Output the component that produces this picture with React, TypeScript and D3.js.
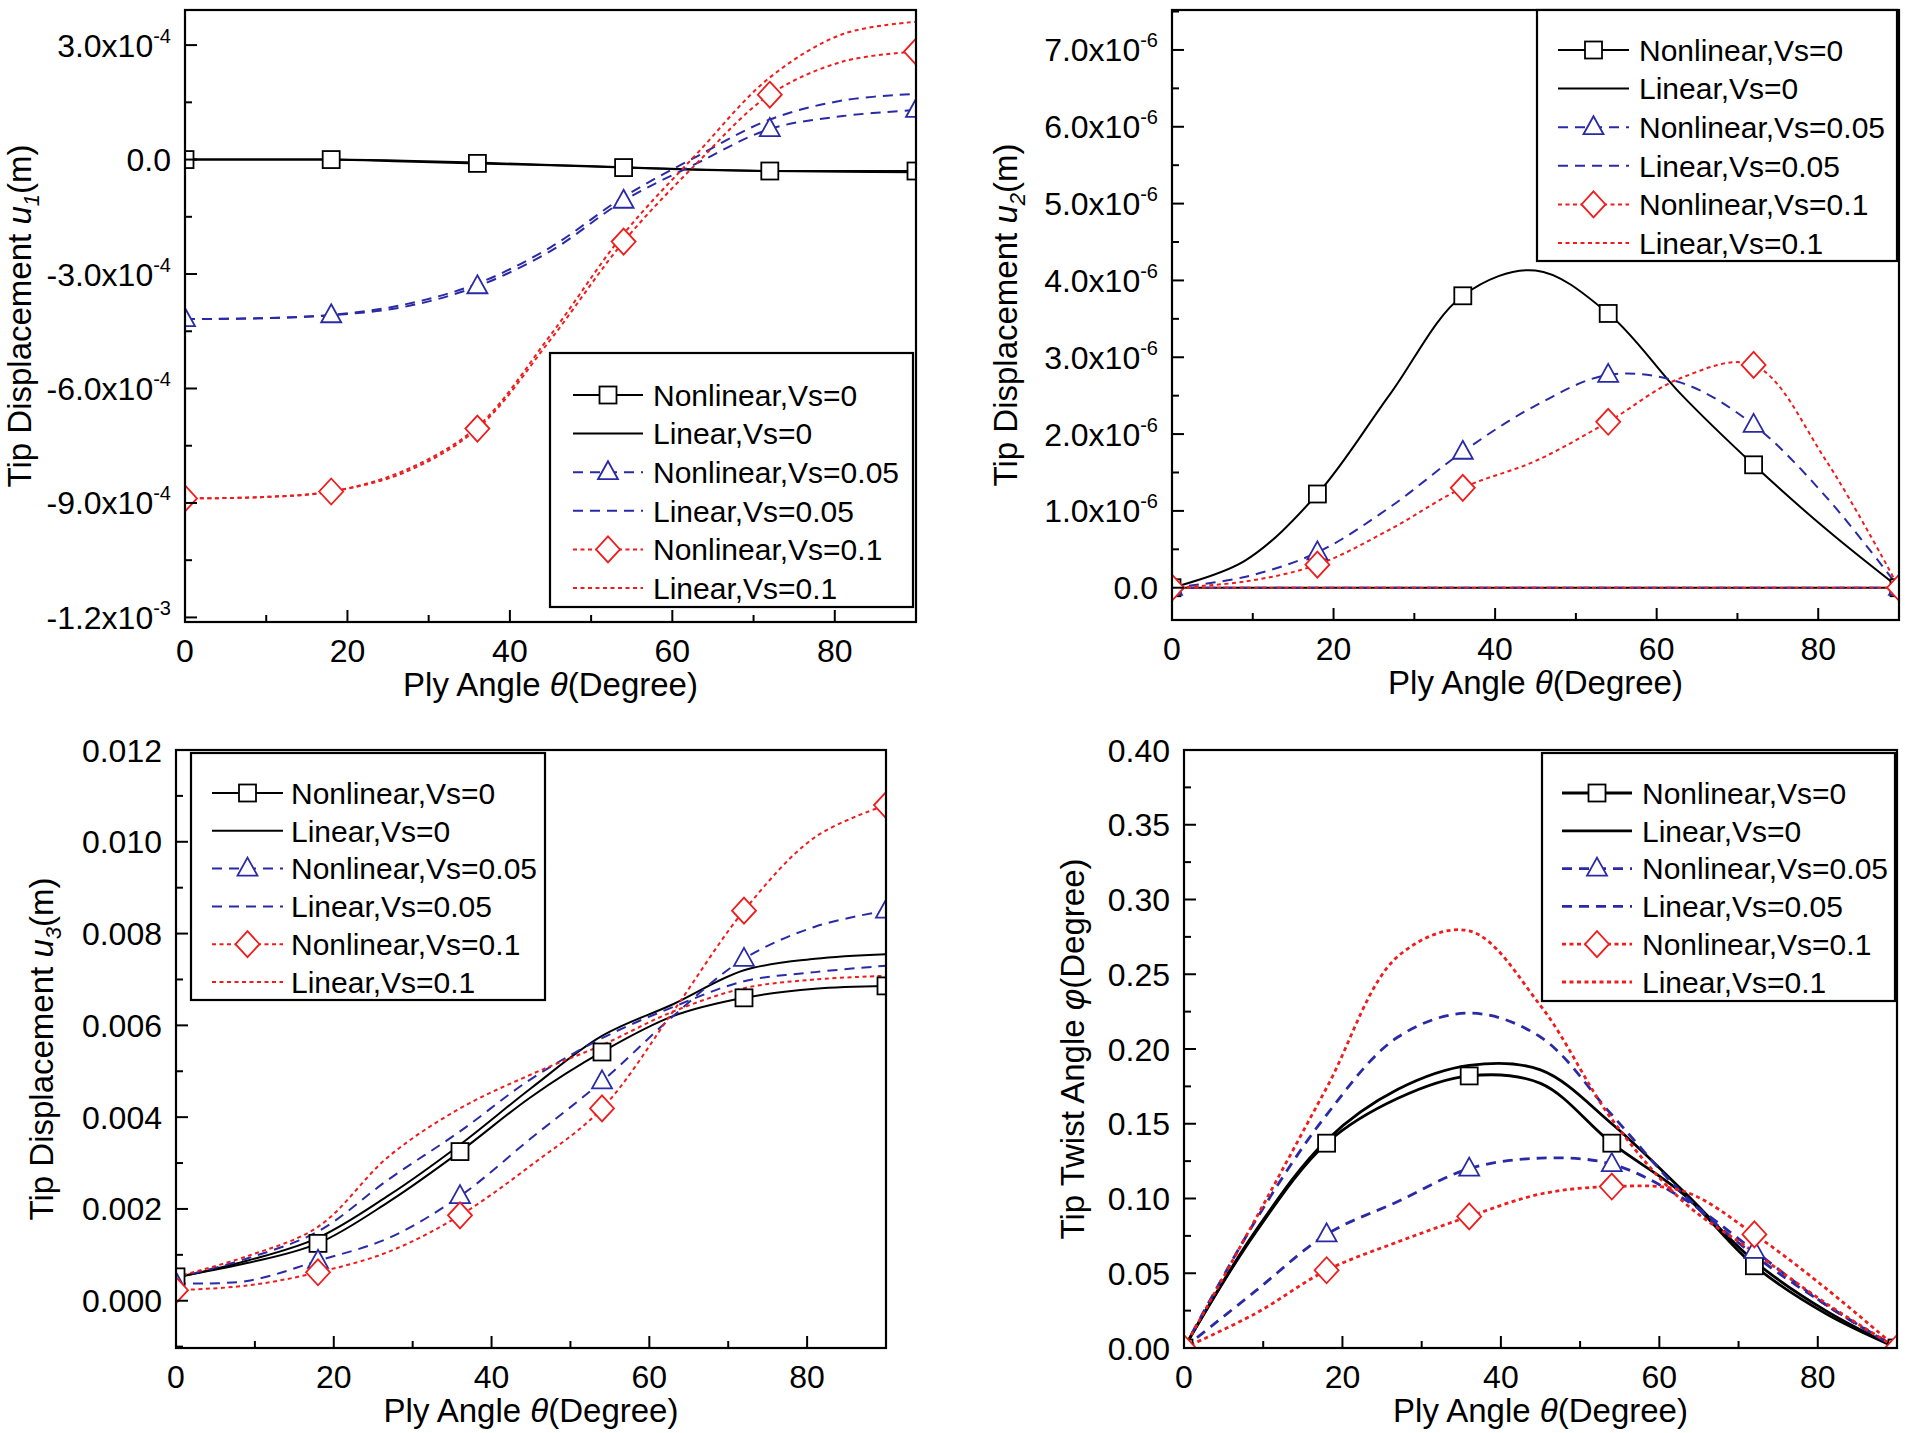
import React, { useEffect } from 'react';
import * as d3 from 'd3';

// ply angle samples (degrees); markers sit on every 18 degrees
const ANGLES = [0, 9, 18, 27, 36, 45, 54, 63, 72, 81, 90];
const MARKER_STEP = 18;
const X_MAJOR = [0, 20, 40, 60, 80];
const X_MINOR = [10, 30, 50, 70];

const LEGEND_LABELS = [
  'Nonlinear,Vs=0',
  'Linear,Vs=0',
  'Nonlinear,Vs=0.05',
  'Linear,Vs=0.05',
  'Nonlinear,Vs=0.1',
  'Linear,Vs=0.1',
];

// tip displacement u1 (m)
const U1_NL_0 = [0, 0, 0, -0.05e-4, -0.1e-4, -0.15e-4, -0.21e-4, -0.27e-4, -0.3e-4, -0.3e-4, -0.3e-4];
const U1_LIN_0 = [0, 0, 0, -0.03e-4, -0.08e-4, -0.14e-4, -0.2e-4, -0.26e-4, -0.3e-4, -0.32e-4, -0.33e-4];
const U1_NL_05 = [-4.18e-4, -4.16e-4, -4.08e-4, -3.86e-4, -3.32e-4, -2.4e-4, -1.08e-4, -0.1e-4, 0.8e-4, 1.14e-4, 1.3e-4];
const U1_LIN_05 = [-4.18e-4, -4.16e-4, -4.07e-4, -3.8e-4, -3.25e-4, -2.3e-4, -0.98e-4, 0.08e-4, 1.05e-4, 1.55e-4, 1.72e-4];
const U1_NL_1 = [-8.88e-4, -8.85e-4, -8.7e-4, -8.2e-4, -7.05e-4, -4.72e-4, -2.15e-4, -0.1e-4, 1.7e-4, 2.57e-4, 2.83e-4];
const U1_LIN_1 = [-8.88e-4, -8.85e-4, -8.7e-4, -8.15e-4, -7.0e-4, -4.6e-4, -1.95e-4, 0.15e-4, 2.15e-4, 3.29e-4, 3.61e-4];
const U1_TICKS = [3e-4, 0, -3e-4, -6e-4, -9e-4, -1.2e-3];

// tip displacement u2 (m)
const U2_NL_0 = [0, 0.35e-6, 1.22e-6, 2.52e-6, 3.8e-6, 4.13e-6, 3.57e-6, 2.52e-6, 1.6e-6, 0.76e-6, 0];
const U2_LIN_0 = [0, 0, 0, 0, 0, 0, 0, 0, 0, 0, 0];
const U2_NL_05 = [0, 0.14e-6, 0.46e-6, 1.05e-6, 1.77e-6, 2.37e-6, 2.77e-6, 2.67e-6, 2.12e-6, 1.18e-6, 0];
const U2_LIN_05 = [0, 0, 0, 0, 0, 0, 0, 0, 0, 0, 0];
const U2_NL_1 = [0, 0.08e-6, 0.3e-6, 0.76e-6, 1.3e-6, 1.65e-6, 2.16e-6, 2.73e-6, 2.9e-6, 1.65e-6, 0];
const U2_LIN_1 = [0, 0, 0, 0, 0, 0, 0, 0, 0, 0, 0];
const U2_TICKS = [7e-6, 6e-6, 5e-6, 4e-6, 3e-6, 2e-6, 1e-6, 0];

// tip displacement u3 (m)
const U3_NL_0 = [0.00052, 0.00082, 0.00125, 0.00216, 0.00325, 0.00444, 0.00542, 0.0062, 0.0066, 0.0068, 0.00686];
const U3_LIN_0 = [0.0005, 0.00087, 0.00137, 0.0023, 0.0034, 0.00463, 0.00577, 0.00646, 0.0072, 0.00745, 0.00755];
const U3_NL_05 = [0.00038, 0.00043, 0.00087, 0.00137, 0.00228, 0.00354, 0.00478, 0.0062, 0.00745, 0.00815, 0.0085];
const U3_LIN_05 = [0.0005, 0.00092, 0.00151, 0.00265, 0.00369, 0.00483, 0.00572, 0.0064, 0.00696, 0.00716, 0.0073];
const U3_NL_1 = [0.00023, 0.00033, 0.00062, 0.00107, 0.00186, 0.00295, 0.00419, 0.0063, 0.0085, 0.0101, 0.0108];
const U3_LIN_1 = [0.00052, 0.00097, 0.00161, 0.00315, 0.00419, 0.00493, 0.00557, 0.0063, 0.00681, 0.007, 0.00708];
const U3_TICKS = [0.012, 0.01, 0.008, 0.006, 0.004, 0.002, 0];

// tip twist angle (degree)
const TW_NL_0 = [0, 0.077, 0.137, 0.167, 0.182, 0.177, 0.137, 0.103, 0.055, 0.023, 0];
const TW_LIN_0 = [0, 0.078, 0.139, 0.173, 0.189, 0.186, 0.15, 0.105, 0.058, 0.025, 0];
const TW_NL_05 = [0, 0.038, 0.076, 0.098, 0.12, 0.127, 0.123, 0.1, 0.065, 0.029, 0];
const TW_LIN_05 = [0, 0.085, 0.156, 0.208, 0.224, 0.208, 0.156, 0.103, 0.062, 0.029, 0];
const TW_NL_1 = [0, 0.023, 0.052, 0.071, 0.088, 0.103, 0.108, 0.105, 0.076, 0.04, 0];
const TW_LIN_1 = [0, 0.086, 0.174, 0.262, 0.279, 0.229, 0.153, 0.098, 0.064, 0.03, 0];
const TW_TICKS = [0.4, 0.35, 0.3, 0.25, 0.2, 0.15, 0.1, 0.05, 0];

const BLUE = '#2a2aa6';
const RED = '#f01c1c';
const FONT = '"Liberation Sans", Arial, sans-serif';

const STYLES = [
  { color: '#000', dash: undefined, marker: 'square' },
  { color: '#000', dash: undefined, marker: null },
  { color: BLUE, dash: '10 7', marker: 'triangle' },
  { color: BLUE, dash: '10 7', marker: null },
  { color: RED, dash: '4 3.5', marker: 'diamond' },
  { color: RED, dash: '4 3.5', marker: null },
];

const sci = (v: number) => {
  if (v === 0) return ['0.0', ''];
  const e = Math.floor(Math.log10(Math.abs(v)) + 1e-9);
  return [(v / Math.pow(10, e)).toFixed(1) + 'x10', String(e)];
};

const PANELS = [
  {
    id: 'p1', left: 185, right: 916, top: 10, bottom: 622,
    yDomain: [-1.212e-3, 3.92e-4], ticks: U1_TICKS, fmt: (v: number) => sci(v),
    series: [U1_NL_0, U1_LIN_0, U1_NL_05, U1_LIN_05, U1_NL_1, U1_LIN_1],
    yTitle: ['Tip Displacement ', 'u', '1', '(m)'], titleX: 31,
    legend: { x0: 550, x1: 913, y0: 353, y1: 607, rowY: 395, rowStep: 38.6, s0: 573, s1: 643, tx: 653 },
    sw: 2,
  },
  {
    id: 'p2', left: 1172, right: 1899, top: 10, bottom: 620,
    yDomain: [-0.42e-6, 7.52e-6], ticks: U2_TICKS, fmt: (v: number) => sci(v),
    series: [U2_NL_0, U2_LIN_0, U2_NL_05, U2_LIN_05, U2_NL_1, U2_LIN_1],
    yTitle: ['Tip Displacement ', 'u', '2', '(m)'], titleX: 1017,
    legend: { x0: 1537, x1: 1897, y0: 10, y1: 261, rowY: 50, rowStep: 38.6, s0: 1558, s1: 1629, tx: 1639 },
    sw: 2,
  },
  {
    id: 'p3', left: 176, right: 886, top: 750, bottom: 1348,
    yDomain: [-0.00103, 0.012], ticks: U3_TICKS, fmt: (v: number) => [v.toFixed(3), ''],
    series: [U3_NL_0, U3_LIN_0, U3_NL_05, U3_LIN_05, U3_NL_1, U3_LIN_1],
    yTitle: ['Tip Displacement ', 'u', '3', '(m)'], titleX: 53,
    legend: { x0: 191, x1: 545, y0: 753, y1: 1000, rowY: 793, rowStep: 37.8, s0: 212, s1: 283, tx: 291 },
    sw: 2,
  },
  {
    id: 'p4', left: 1184, right: 1897, top: 750, bottom: 1348,
    yDomain: [0, 0.4], ticks: TW_TICKS, fmt: (v: number) => [v.toFixed(2), ''],
    series: [TW_NL_0, TW_LIN_0, TW_NL_05, TW_LIN_05, TW_NL_1, TW_LIN_1],
    yTitle: ['Tip Twist Angle ', 'φ', '', '(Degree)'], titleX: 1084,
    legend: { x0: 1542, x1: 1895, y0: 753, y1: 1001, rowY: 793, rowStep: 37.8, s0: 1562, s1: 1632, tx: 1642 },
    sw: 2.8,
  },
];

const Marker = ({ kind, cx, cy, color }: { kind: string; cx: number; cy: number; color: string }) => {
  const common = { fill: '#fff', stroke: color, strokeWidth: 1.8 };
  if (kind === 'square') return <rect x={cx - 8.5} y={cy - 8.5} width={17} height={17} {...common} />;
  if (kind === 'triangle')
    return <path d={`M${cx},${cy - 11}L${cx + 10},${cy + 7}L${cx - 10},${cy + 7}Z`} {...common} />;
  return <path d={`M${cx},${cy - 13}L${cx + 12},${cy}L${cx},${cy + 13}L${cx - 12},${cy}Z`} {...common} />;
};

const Panel = ({ cfg }: { cfg: (typeof PANELS)[number] }) => {
  const x = d3.scaleLinear().domain([0, 90]).range([cfg.left, cfg.right]);
  const y = d3.scaleLinear().domain(cfg.yDomain).range([cfg.bottom, cfg.top]);
  const line = d3
    .line<number>()
    .x((_, i) => x(ANGLES[i]))
    .y((d) => y(d))
    .curve(d3.curveCatmullRom.alpha(0.5));

  const sorted = [...cfg.ticks].sort((a, b) => a - b);
  const step = sorted[1] - sorted[0];
  const minor = [sorted[0] - step / 2, ...sorted.map((t) => t + step / 2)].filter(
    (v) => v > cfg.yDomain[0] && v < cfg.yDomain[1]
  );
  const lg = cfg.legend;
  const cx = (cfg.left + cfg.right) / 2;
  const cy = (cfg.top + cfg.bottom) / 2;

  return (
    <g fontFamily={FONT}>
      <defs>
        <clipPath id={`clip-${cfg.id}`}>
          <rect x={cfg.left} y={cfg.top} width={cfg.right - cfg.left} height={cfg.bottom - cfg.top} />
        </clipPath>
      </defs>
      <g clipPath={`url(#clip-${cfg.id})`}>
        {cfg.series.map((s, i) => (
          <path
            key={i}
            d={line(s) || ''}
            fill="none"
            stroke={STYLES[i].color}
            strokeWidth={cfg.sw}
            strokeDasharray={STYLES[i].dash}
          />
        ))}
        {cfg.series.map((s, i) =>
          STYLES[i].marker
            ? s.map((v, j) =>
                ANGLES[j] % MARKER_STEP === 0 ? (
                  <Marker key={`${i}-${j}`} kind={STYLES[i].marker as string} cx={x(ANGLES[j])} cy={y(v)} color={STYLES[i].color} />
                ) : null
              )
            : null
        )}
      </g>
      <rect
        x={cfg.left}
        y={cfg.top}
        width={cfg.right - cfg.left}
        height={cfg.bottom - cfg.top}
        fill="none"
        stroke="#000"
        strokeWidth={2.2}
      />
      {X_MAJOR.map((t) => (
        <g key={`xm${t}`}>
          <line x1={x(t)} x2={x(t)} y1={cfg.bottom} y2={cfg.bottom - 12} stroke="#000" strokeWidth={2} />
          <text x={x(t)} y={cfg.bottom + 40} textAnchor="middle" fontSize={32}>
            {t}
          </text>
        </g>
      ))}
      {X_MINOR.map((t) => (
        <line key={`xn${t}`} x1={x(t)} x2={x(t)} y1={cfg.bottom} y2={cfg.bottom - 7} stroke="#000" strokeWidth={2} />
      ))}
      {cfg.ticks.map((t) => {
        const [main, sup] = cfg.fmt(t);
        return (
          <g key={`ym${t}`}>
            <line x1={cfg.left} x2={cfg.left + 12} y1={y(t)} y2={y(t)} stroke="#000" strokeWidth={2} />
            <text x={cfg.left - 14} y={y(t)} dy="0.36em" textAnchor="end" fontSize={32}>
              {main}
              {sup ? (
                <tspan fontSize={20} dy={-14}>
                  {sup}
                </tspan>
              ) : null}
            </text>
          </g>
        );
      })}
      {minor.map((t) => (
        <line key={`yn${t}`} x1={cfg.left} x2={cfg.left + 7} y1={y(t)} y2={y(t)} stroke="#000" strokeWidth={2} />
      ))}
      <text x={cx} y={cfg.bottom + 74} textAnchor="middle" fontSize={33}>
        Ply Angle <tspan fontStyle="italic">θ</tspan>(Degree)
      </text>
      <text transform={`translate(${cfg.titleX},${cy}) rotate(-90)`} textAnchor="middle" fontSize={33}>
        {cfg.yTitle[0]}
        <tspan fontStyle="italic">{cfg.yTitle[1]}</tspan>
        {cfg.yTitle[2] ? (
          <>
            <tspan fontStyle="italic" fontSize={22} dy={8}>
              {cfg.yTitle[2]}
            </tspan>
            <tspan dy={-8}>{cfg.yTitle[3]}</tspan>
          </>
        ) : (
          <tspan>{cfg.yTitle[3]}</tspan>
        )}
      </text>
      <rect x={lg.x0} y={lg.y0} width={lg.x1 - lg.x0} height={lg.y1 - lg.y0} fill="#fff" stroke="#000" strokeWidth={2.2} />
      {LEGEND_LABELS.map((label, i) => {
        const ry = lg.rowY + i * lg.rowStep;
        return (
          <g key={label}>
            <line
              x1={lg.s0}
              x2={lg.s1}
              y1={ry}
              y2={ry}
              stroke={STYLES[i].color}
              strokeWidth={cfg.sw}
              strokeDasharray={STYLES[i].dash}
            />
            {STYLES[i].marker ? (
              <Marker kind={STYLES[i].marker as string} cx={(lg.s0 + lg.s1) / 2} cy={ry} color={STYLES[i].color} />
            ) : null}
            <text x={lg.tx} y={ry} dy="0.36em" fontSize={30}>
              {label}
            </text>
          </g>
        );
      })}
    </g>
  );
};

export default function App() {
  useEffect(() => {
    document.body.style.margin = '0';
  }, []);
  return (
    <svg width={1906} height={1433} style={{ display: 'block', background: '#fff' }}>
      {PANELS.map((p) => (
        <Panel key={p.id} cfg={p} />
      ))}
    </svg>
  );
}
